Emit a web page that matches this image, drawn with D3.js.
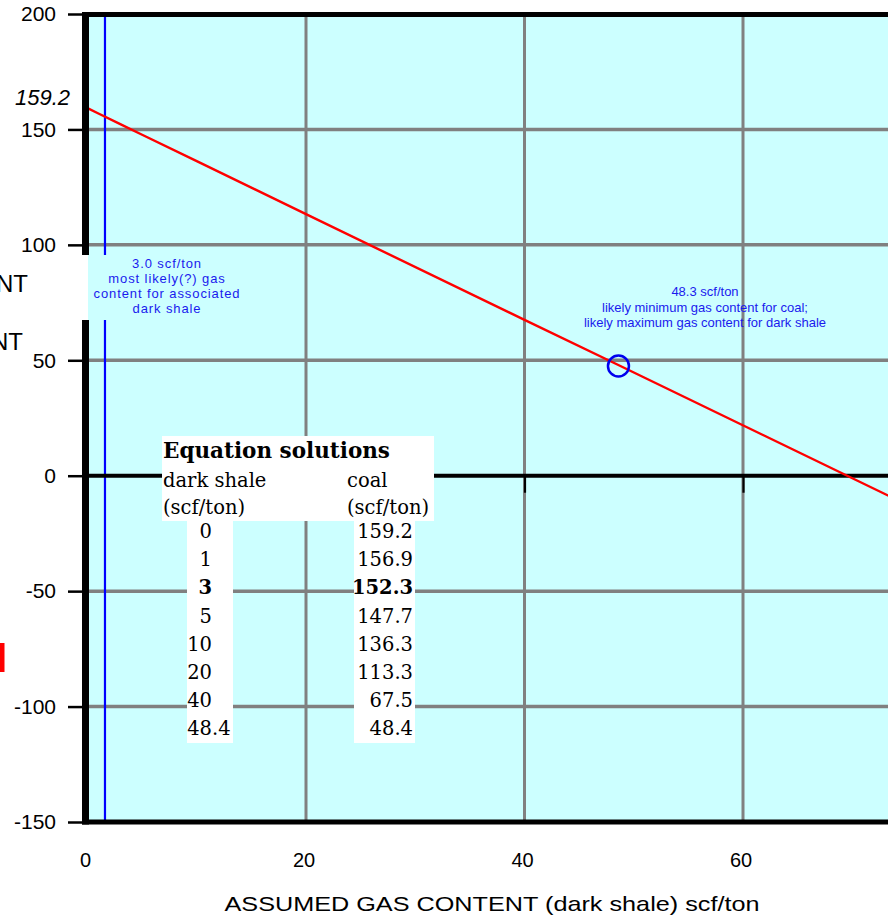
<!DOCTYPE html>
<html><head><meta charset="utf-8">
<script src="https://cdn.jsdelivr.net/npm/d3@7"></script>
<style>body{margin:0;background:#fff}svg{display:block}</style>
</head><body>
<script>
// ---- data ----
const xTicks = [0, 20, 40, 60];
const yTicks = [200, 150, 100, 50, 0, -50, -100, -150];
const xGrid = [20, 40, 60, 80];
const yGrid = [150, 100, 50, -50, -100];
const shaleVals = [0, 1, 3, 5, 10, 20, 40, 48.4];
const coalVals = [159.2, 156.9, 152.3, 147.7, 136.3, 113.3, 67.5, 48.4];
const boldRow = 2;
const lineExtX = [80];          // red line continues to the plot edge
const lineExtY = [-24];
const blueLineX = 1.6;          // vertical blue line position
const circlePt = [48.6, 47.5];  // blue circle marker
const interceptLabel = "159.2";
const leftNote = ["3.0 scf/ton", "most likely(?) gas", "content for associated", "dark shale"];
const rightNote = ["48.3 scf/ton", "likely minimum gas content for coal;", "likely maximum gas content for dark shale"];
const xTitle = "ASSUMED GAS CONTENT (dark shale) scf/ton";

const W = 888, H = 918;
const svg = d3.select("body").append("svg").attr("width", W).attr("height", H);
const x = d3.scaleLinear().domain([0, 80]).range([87.5, 961.5]);
const y = d3.scaleLinear().domain([-150, 200]).range([822, 14]);
const sans = "'Liberation Sans', Arial, sans-serif";

// plot background
svg.append("rect").attr("x", x(0)).attr("y", y(200)).attr("width", x(80) - x(0)).attr("height", y(-150) - y(200)).attr("fill", "#ccffff");

// grid
svg.append("g").selectAll("line").data(yGrid).join("line")
  .attr("x1", x(0)).attr("x2", x(80)).attr("y1", d => y(d)).attr("y2", d => y(d))
  .attr("stroke", "#808080").attr("stroke-width", 3.5);
svg.append("g").selectAll("line").data(xGrid).join("line")
  .attr("x1", d => x(d)).attr("x2", d => x(d)).attr("y1", y(200)).attr("y2", y(-150))
  .attr("stroke", "#808080").attr("stroke-width", 3);

// blue vertical line
svg.append("line").attr("x1", x(blueLineX)).attr("x2", x(blueLineX)).attr("y1", y(200)).attr("y2", y(-150))
  .attr("stroke", "#0000ff").attr("stroke-width", 2.2);

// zero line + ticks
svg.append("line").attr("x1", x(0)).attr("x2", x(80)).attr("y1", y(0)).attr("y2", y(0))
  .attr("stroke", "#000").attr("stroke-width", 4);
const zAxis = svg.append("g").attr("transform", `translate(0,${y(0)})`)
  .call(d3.axisBottom(x).tickValues(xGrid).tickSize(17).tickFormat(""));
zAxis.select(".domain").remove();
zAxis.selectAll(".tick line").attr("stroke", "#000").attr("stroke-width", 2.2);

// red line
const pts = shaleVals.map((v, i) => [v, coalVals[i]]).concat(lineExtX.map((v, i) => [v, lineExtY[i]]));
svg.append("path").datum(pts)
  .attr("d", d3.line().x(d => x(d[0])).y(d => y(d[1])))
  .attr("fill", "none").attr("stroke", "#ff0000").attr("stroke-width", 2.4);

// circle
svg.append("circle").attr("cx", x(circlePt[0])).attr("cy", y(circlePt[1])).attr("r", 10.5)
  .attr("fill", "none").attr("stroke", "#0000ee").attr("stroke-width", 2.5);

// borders
svg.append("line").attr("x1", 82).attr("x2", W + 10).attr("y1", 14.5).attr("y2", 14.5).attr("stroke", "#000").attr("stroke-width", 5);
svg.append("line").attr("x1", 82).attr("x2", W + 10).attr("y1", 822).attr("y2", 822).attr("stroke", "#000").attr("stroke-width", 5);
svg.append("line").attr("x1", 85.5).attr("x2", 85.5).attr("y1", 12).attr("y2", 824.5).attr("stroke", "#000").attr("stroke-width", 7);

// y axis
const yAxis = svg.append("g").attr("transform", "translate(83,0)")
  .call(d3.axisLeft(y).tickValues(yTicks).tickSize(15).tickPadding(12).tickFormat(d => String(d)));
yAxis.select(".domain").remove();
yAxis.selectAll(".tick line").attr("stroke", "#000").attr("stroke-width", 2.5);
yAxis.selectAll(".tick text").attr("font-family", sans).attr("font-size", 21).attr("fill", "#000");

// intercept label
svg.append("text").attr("x", 70).attr("y", y(159.2) - 3).attr("text-anchor", "end")
  .attr("font-family", sans).attr("font-size", 22).attr("font-style", "italic").text(interceptLabel);

// x labels at bottom
svg.append("g").selectAll("text").data(xTicks).join("text")
  .attr("x", d => x(d) - 2).attr("y", 867).attr("text-anchor", "middle")
  .attr("font-family", sans).attr("font-size", 20).text(d => d);
svg.append("text").attr("x", 492).attr("y", 911).attr("text-anchor", "middle")
  .attr("font-family", sans).attr("font-size", 21).attr("textLength", 535).attr("lengthAdjust", "spacingAndGlyphs").text(xTitle);

// cut-off left labels (cropped at the edge as in the source)
svg.append("text").attr("x", 28).attr("y", 292).attr("text-anchor", "end").attr("font-family", sans).attr("font-size", 24).text("NT");
svg.append("text").attr("x", 23).attr("y", 350).attr("text-anchor", "end").attr("font-family", sans).attr("font-size", 24).text("NT");
svg.append("rect").attr("x", 0).attr("y", 643).attr("width", 4.5).attr("height", 29).attr("fill", "#ff0000");

// left annotation
svg.append("rect").attr("x", 82).attr("y", 255).attr("width", 168).attr("height", 65).attr("fill", "#ccffff");
svg.append("rect").attr("x", 82).attr("y", 255).attr("width", 6).attr("height", 65).attr("fill", "#ffffff");
svg.append("g").selectAll("text").data(leftNote).join("text")
  .attr("x", 167).attr("y", (d, i) => 268 + i * 15).attr("text-anchor", "middle")
  .attr("font-family", sans).attr("font-size", 13).attr("letter-spacing", 0.9).attr("fill", "#1a1aee").text(d => d);

// right annotation
svg.append("g").selectAll("text").data(rightNote).join("text")
  .attr("x", 705).attr("y", (d, i) => 296 + i * 15.5).attr("text-anchor", "middle")
  .attr("font-family", sans).attr("font-size", 13).attr("fill", "#1a1aee").text(d => d);

// table
const serif = "'DejaVu Serif', serif";
const tb = svg.append("g").attr("font-family", serif).attr("font-size", 19.5).attr("fill", "#000");
tb.append("rect").attr("x", 162).attr("y", 436).attr("width", 272).attr("height", 85).attr("fill", "#fff");
tb.append("rect").attr("x", 187).attr("y", 520).attr("width", 46).attr("height", 223).attr("fill", "#fff");
tb.append("rect").attr("x", 354).attr("y", 520).attr("width", 61).attr("height", 223).attr("fill", "#fff");
tb.append("text").attr("x", 163).attr("y", 458).attr("font-weight", "bold").attr("font-size", 21.5).text("Equation solutions");
tb.append("text").attr("x", 163).attr("y", 487).text("dark shale");
tb.append("text").attr("x", 163).attr("y", 514).text("(scf/ton)");
tb.append("text").attr("x", 347).attr("y", 487).text("coal");
tb.append("text").attr("x", 347).attr("y", 514).text("(scf/ton)");
const rowY = i => 538 + i * 28.2;
shaleVals.forEach((v, i) => {
  const s = String(v), parts = s.split(".");
  const t = tb.append("text").attr("y", rowY(i)).attr("font-weight", i === boldRow ? "bold" : null);
  t.attr("x", 212).attr("text-anchor", "end").text(parts[0]);
  if (parts[1]) tb.append("text").attr("x", 212).attr("y", rowY(i)).text("." + parts[1]);
});
coalVals.forEach((v, i) => {
  tb.append("text").attr("x", 413).attr("y", rowY(i)).attr("text-anchor", "end")
    .attr("font-weight", i === boldRow ? "bold" : null).text(v.toFixed(1));
});
</script>
</body></html>
